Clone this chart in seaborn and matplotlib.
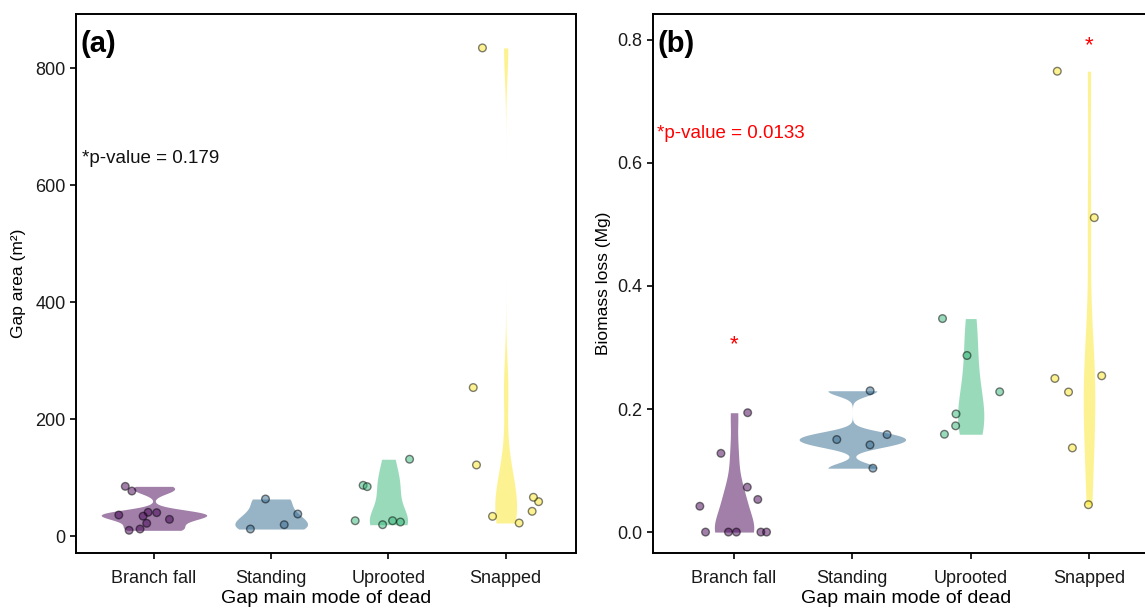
import numpy as np
import pandas as pd
import seaborn as sns
import matplotlib.pyplot as plt

modes = ["Branch fall", "Standing", "Uprooted", "Snapped"]
colors = ["#440154", "#31688E", "#35B779", "#FDE725"]

# gap area (m2) per gap, by main mode of death
area_branch = [40.6, 28.6, 36, 12, 9.8, 85, 77, 34, 21.8, 40]
area_standing = [63.4, 19.4, 12, 37.7]
area_uprooted = [26.2, 24, 19.4, 26.2, 86.8, 84.5, 131.4]
area_snapped = [58.8, 33.7, 22.3, 42.3, 66.3, 121.6, 254, 835]

# biomass loss (Mg) per gap
bio_branch = [0, 0, 0, 0, 0, 0.194, 0.128, 0.073, 0.053, 0.042]
bio_standing = [0.2297, 0.1585, 0.1417, 0.1504, 0.1038]
bio_uprooted = [0.347, 0.287, 0.228, 0.192, 0.1727, 0.159]
bio_snapped = [0.2497, 0.254, 0.2276, 0.1368, 0.0445, 0.749, 0.511]

p_area = "*p-value = 0.179"
p_bio = "*p-value = 0.0133"
star_bio = [0.305, None, None, 0.791]


def long_df(groups, col):
    rows = []
    for m, vals in zip(modes, groups):
        rows += [(m, v) for v in vals]
    return pd.DataFrame(rows, columns=["mode", col])


def nrd0(kde):
    # R's default bandwidth rule, as a gaussian_kde factor
    x = kde.dataset.ravel()
    sd = x.std(ddof=1)
    q75, q25 = np.percentile(x, [75, 25])
    lo = min(sd, (q75 - q25) / 1.34)
    if lo <= 0:
        lo = sd
    return 0.9 * lo * len(x) ** -0.2 / sd


df_a = long_df([area_branch, area_standing, area_uprooted, area_snapped], "area")
df_b = long_df([bio_branch, bio_standing, bio_uprooted, bio_snapped], "bio")

sns.set_theme(style="ticks")
plt.rcParams["font.family"] = ["Liberation Sans", "DejaVu Sans"]
plt.rcParams["axes.linewidth"] = 1.4
plt.rcParams["text.color"] = "black"
plt.rcParams["axes.labelcolor"] = "black"

fig = plt.figure(figsize=(11.45, 6.10), dpi=100)
ax1 = fig.add_axes([76 / 1145, 57 / 610, 500 / 1145, 539 / 610])
ax2 = fig.add_axes([653 / 1145, 57 / 610, 507 / 1145, 539 / 610])

np.random.seed(1)
for ax, df, col in [(ax1, df_a, "area"), (ax2, df_b, "bio")]:
    sns.violinplot(data=df, x="mode", y=col, hue="mode", order=modes, hue_order=modes,
                   palette=colors, saturation=1, cut=0, bw_method=nrd0,
                   density_norm="area", common_norm=True, width=0.9, inner=None,
                   linewidth=0, gridsize=512, alpha=0.5, legend=False, ax=ax)
    sns.stripplot(data=df, x="mode", y=col, hue="mode", order=modes, hue_order=modes,
                  palette=colors, jitter=0.3, size=5.5, alpha=0.5, linewidth=1,
                  edgecolor="black", legend=False, ax=ax)
    for s in ax.spines.values():
        s.set_visible(True)
        s.set_color("black")
    ax.tick_params(axis="both", length=4.5, width=1.2, color="black",
                   labelsize=13, labelcolor="#1a1a1a", pad=3)
    ax.tick_params(axis="x", pad=8)
    ax.set_xlabel("Gap main mode of dead", fontsize=14, labelpad=2)

ax1.set_xlim(-0.665, 3.6)
ax1.set_ylim(-29, 893)
ax1.set_yticks([0, 200, 400, 600, 800])
ax1.set_ylabel("Gap area (m²)", fontsize=12.5)
ax1.yaxis.set_label_coords(-0.1, 0.5)
ax1.text(0.008, 0.944, "(a)", transform=ax1.transAxes, fontsize=21,
         fontweight="bold", ha="left", va="center")
ax1.text(0.012, 0.731, p_area, transform=ax1.transAxes, fontsize=13.5,
         ha="left", va="center", color="#111111")

ax2.set_xlim(-0.685, 3.6)
ax2.set_ylim(-0.034, 0.842)
ax2.set_yticks([0, 0.2, 0.4, 0.6, 0.8])
ax2.set_yticklabels(["0.0", "0.2", "0.4", "0.6", "0.8"])
ax2.set_ylabel("Biomass loss (Mg)", fontsize=12.5)
ax2.yaxis.set_label_coords(-0.083, 0.5)
ax2.text(0.008, 0.944, "(b)", transform=ax2.transAxes, fontsize=21,
         fontweight="bold", ha="left", va="center")
ax2.text(0.008, 0.779, p_bio, transform=ax2.transAxes, fontsize=13.5,
         ha="left", va="center", color="red")
for i, y in enumerate(star_bio):
    if y is not None:
        ax2.text(i, y, "*", color="red", fontsize=16, ha="center", va="center")

fig.savefig("out.png", dpi=100)
